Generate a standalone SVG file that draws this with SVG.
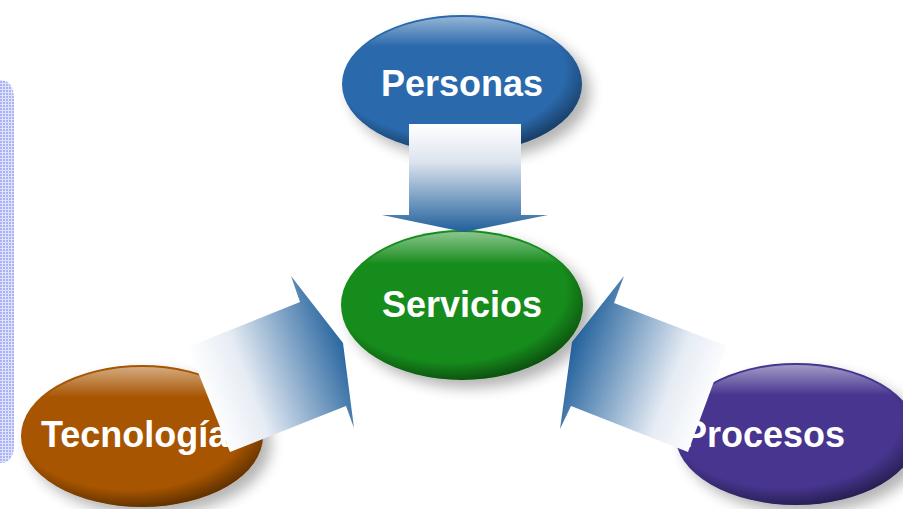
<svg xmlns="http://www.w3.org/2000/svg" width="903" height="509" viewBox="0 0 903 509">
<defs>
<style>
.lbl{font-family:"Liberation Sans",Arial,sans-serif;font-weight:bold;font-size:36px;fill:#ffffff;}
</style>
<pattern id="dots" width="3" height="3" patternUnits="userSpaceOnUse">
<rect width="3" height="3" fill="#dfe2fc"/>
<rect width="2" height="2" fill="#aab3f4"/>
</pattern>
<filter id="sh" x="-30%" y="-30%" width="160%" height="160%">
<feGaussianBlur in="SourceAlpha" stdDeviation="7"/>
<feOffset dx="8" dy="8" result="b"/>
<feComponentTransfer><feFuncA type="linear" slope="0.3"/></feComponentTransfer>
<feMerge><feMergeNode/><feMergeNode in="SourceGraphic"/></feMerge>
</filter>
<radialGradient id="rim" cx="0.45" cy="0.4" r="0.6">
<stop offset="0.8" stop-color="#000" stop-opacity="0"/>
<stop offset="1" stop-color="#000" stop-opacity="0.4"/>
</radialGradient>
<linearGradient id="hl" x1="0" y1="0" x2="0" y2="1">
<stop offset="0" stop-color="#fff" stop-opacity="0.5"/>
<stop offset="0.22" stop-color="#fff" stop-opacity="0"/>
</linearGradient>
<linearGradient id="gDown" gradientUnits="userSpaceOnUse" x1="0" y1="124" x2="0" y2="232">
<stop offset="0" stop-color="#ffffff"/>
<stop offset="0.35" stop-color="#dde4ee"/>
<stop offset="1" stop-color="#1f5f9b"/>
</linearGradient>
<linearGradient id="gLeft" gradientUnits="userSpaceOnUse" x1="205" y1="400" x2="350" y2="345">
<stop offset="0" stop-color="#ffffff"/>
<stop offset="0.3" stop-color="#e6ecf4"/>
<stop offset="1" stop-color="#1f5f9b"/>
</linearGradient>
<linearGradient id="gRight" gradientUnits="userSpaceOnUse" x1="715" y1="400" x2="570" y2="345">
<stop offset="0" stop-color="#ffffff"/>
<stop offset="0.3" stop-color="#e6ecf4"/>
<stop offset="1" stop-color="#1f5f9b"/>
</linearGradient>
</defs>
<rect width="903" height="509" fill="#ffffff"/>
<path d="M-10,80 H0 Q14,80 14,100 V445 Q14,463 0,463 H-10 Z" fill="url(#dots)"/>
<g id="personas">
<ellipse cx="462" cy="84" rx="120" ry="69" fill="#2a69ac" filter="url(#sh)"/>
<ellipse cx="462" cy="84" rx="120" ry="69" fill="url(#rim)"/>
<ellipse cx="462" cy="84" rx="118" ry="67" fill="url(#hl)"/>
<text class="lbl" x="462" y="96" text-anchor="middle">Personas</text>
</g>
<g id="servicios">
<ellipse cx="462" cy="305" rx="121" ry="75" fill="#178c1a" filter="url(#sh)"/>
<ellipse cx="462" cy="305" rx="121" ry="75" fill="url(#rim)"/>
<ellipse cx="462" cy="305" rx="119" ry="73" fill="url(#hl)"/>
<text class="lbl" x="462" y="317" text-anchor="middle">Servicios</text>
</g>
<g id="tecnologia">
<ellipse cx="142" cy="436" rx="121" ry="71" fill="#a75400" filter="url(#sh)"/>
<ellipse cx="142" cy="436" rx="121" ry="71" fill="url(#rim)"/>
<ellipse cx="142" cy="436" rx="119" ry="69" fill="url(#hl)"/>
<text class="lbl" x="41" y="447">Tecnología</text>
</g>
<g id="procesos">
<ellipse cx="796" cy="434" rx="121" ry="71" fill="#46358f" filter="url(#sh)"/>
<ellipse cx="796" cy="434" rx="121" ry="71" fill="url(#rim)"/>
<ellipse cx="796" cy="434" rx="119" ry="69" fill="url(#hl)"/>
<text class="lbl" x="683" y="447">Procesos</text>
</g>
<g id="connectors">
<polygon points="409,124 521,124 521,215 548,215 464,232 382,215 409,215" fill="url(#gDown)"/>
<polygon points="188,347 300,302 291,276 343,343 354,428 346,406 230,452" fill="url(#gLeft)"/>
<polygon points="727,346 614,303 624,276 572,342 560,429 571,406 688,452" fill="url(#gRight)"/>
</g>
</svg>
